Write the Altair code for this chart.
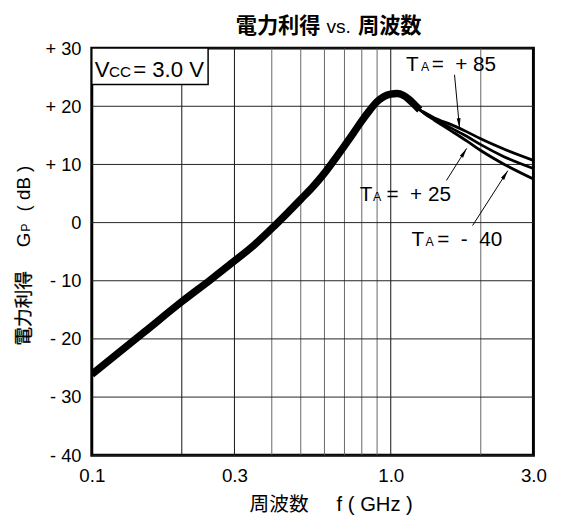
import math
import altair as alt
import pandas as pd

# ---------------- data ----------------
freq_common = [0.1, 0.15, 0.2, 0.25, 0.3, 0.35, 0.4, 0.45, 0.5, 0.55, 0.6, 0.65,
               0.7, 0.75, 0.8, 0.85, 0.9, 0.95, 1.0, 1.05, 1.1, 1.15, 1.2, 1.25]
gain_common = [-26.1, -18.8, -13.6, -9.8, -6.6, -3.8, -1.0, 1.6, 4.0, 6.2, 8.5, 10.9,
               13.2, 15.4, 17.5, 19.3, 20.8, 21.7, 22.1, 22.2, 21.9, 21.2, 20.3, 19.4]

freq_branch = [1.25, 1.3, 1.4, 1.6, 1.8, 2.0, 2.4, 3.0]
gain_p85 = [19.4, 18.9, 18.0, 16.8, 15.6, 14.4, 12.6, 10.7]
gain_p25 = [19.4, 18.8, 17.8, 16.2, 14.8, 13.4, 11.3, 9.3]
gain_m40 = [19.4, 18.7, 17.6, 15.7, 14.0, 12.4, 10.0, 7.5]
series_names = ["+85", "+25", "-40"]

x_ticks = [0.1, 0.3, 1.0, 3.0]
y_ticks = [-40, -30, -20, -10, 0, 10, 20, 30]
x_grid = [0.2, 0.3, 0.4, 0.5, 0.6, 0.7, 0.8, 0.9, 1.0, 2.0]
x_grid_major = [0.2, 0.3, 1.0]

label_text = ["T", "A", "=\u00a0\u00a0+ 85",
              "T", "A", "=\u00a0\u00a0+ 25",
              "T", "A", "=\u00a0\u00a0-\u00a0\u00a040"]
label_f = [1.124, 1.262, 1.37, 0.788, 0.872, 0.968, 1.173, 1.307, 1.43]
label_g = [26.05, 26.05, 26.05, 3.73, 3.73, 3.73, -4.07, -4.07, -4.07]
label_size = [21, 12.5, 21, 21, 12.5, 21, 21, 12.5, 21]

arrow_tail_f = [1.634, 1.535, 1.878]
arrow_tail_g = [25.42, 7.24, -0.51]
arrow_tip_f = [1.698, 1.794, 2.463]
arrow_tip_g = [16.27, 12.76, 8.93]

# ---------------- layout ----------------
W, H = 448, 413
XMIN, XMAX, YMIN, YMAX = 0.1, 3.0, -40, 30
FONT = "Liberation Sans, Arial, sans-serif"
CJK = "Noto Sans CJK JP"


def px(f):
    return W * math.log10(f / XMIN) / math.log10(XMAX / XMIN)


def py(g):
    return H * (YMAX - g) / (YMAX - YMIN)


xs = alt.Scale(type="log", domain=[XMIN, XMAX], nice=False)
ys = alt.Scale(domain=[YMIN, YMAX], nice=False)

thin_rows = []
for name, gains in zip(series_names, [gain_p85, gain_p25, gain_m40]):
    for f, g in zip(freq_common[:-1], gain_common[:-1]):
        thin_rows.append({"s": name, "f": f, "g": g})
    for f, g in zip(freq_branch, gains):
        thin_rows.append({"s": name, "f": f, "g": g})
thin_df = pd.DataFrame(thin_rows)
thick_df = pd.DataFrame({"f": freq_common, "g": gain_common})

grid_df = pd.DataFrame({"f": x_grid,
                        "c": ["#111111" if v in x_grid_major else "#666666" for v in x_grid]})

lab_df = pd.DataFrame({"t": label_text, "f": label_f, "g": label_g, "sz": label_size})

arr_df = pd.DataFrame({"f": arrow_tail_f, "g": arrow_tail_g,
                       "f2": arrow_tip_f, "g2": arrow_tip_g})
arr_df["ang"] = [
    (math.degrees(math.atan2(px(tf) - px(sf), -(py(tg) - py(sg)))) + 360) % 360
    for sf, sg, tf, tg in zip(arrow_tail_f, arrow_tail_g, arrow_tip_f, arrow_tip_g)
]

one = pd.DataFrame({"k": [0]})

y_label_expr = ("datum.value > 0 ? '+ ' + datum.value : "
                "(datum.value < 0 ? '- ' + abs(datum.value) : '0')")

grid = alt.Chart(grid_df).mark_rule(strokeWidth=1).encode(
    x=alt.X("f:Q", scale=xs,
            axis=alt.Axis(values=x_ticks, labelExpr="format(datum.value, '.1f')",
                          title=None, grid=False, ticks=False, domain=False,
                          labelFont=FONT, labelFontSize=19, labelColor="black",
                          labelPadding=12, labelFlush=False)),
    color=alt.Color("c:N", scale=None),
)

hgrid = alt.Chart(pd.DataFrame({"g": y_ticks})).mark_rule(strokeWidth=1, color="#222").encode(
    y=alt.Y("g:Q", scale=ys,
            axis=alt.Axis(values=y_ticks, labelExpr=y_label_expr, title=None,
                          grid=False, ticks=False, domain=False,
                          labelFont=FONT, labelFontSize=18.5, labelColor="black",
                          labelPadding=11)),
)

box = alt.Chart(one).mark_rect(fill="white", stroke="black", strokeWidth=1.5).encode(
    x=alt.value(0), x2=alt.value(118), y=alt.value(0), y2=alt.value(37))


def txt(s, x, y, size, font=FONT, weight="normal", angle=0, align="left", stroke_w=0):
    kw = {}
    if stroke_w:
        kw = {"stroke": "black", "strokeWidth": stroke_w}
    return alt.Chart(one).mark_text(text=s, font=font, fontSize=size, fontWeight=weight,
                                    angle=angle, align=align, baseline="alphabetic",
                                    color="black", fill="black", **kw).encode(
        x=alt.value(x), y=alt.value(y))


vcc_parts = [
    txt("V", 3, 29.5, 22.5),
    txt("CC", 17.5, 29.5, 15.5),
    txt("= 3.0 V", 42, 29.5, 22.5),
]

thick = alt.Chart(thick_df).mark_line(color="black", strokeWidth=7.5, strokeCap="butt",
                                      interpolate="monotone", clip=True).encode(
    x=alt.X("f:Q", scale=xs), y=alt.Y("g:Q", scale=ys))

thin = alt.Chart(thin_df).mark_line(color="black", strokeWidth=2.8, interpolate="monotone",
                                    clip=True).encode(
    x=alt.X("f:Q", scale=xs), y=alt.Y("g:Q", scale=ys), detail="s:N",
    order=alt.Order("f:Q"))

arrows = alt.Chart(arr_df).mark_rule(color="black", strokeWidth=1).encode(
    x=alt.X("f:Q", scale=xs), y=alt.Y("g:Q", scale=ys), x2="f2:Q", y2="g2:Q")

heads = alt.Chart(arr_df).mark_point(shape="M0,0L0.35,1.8L-0.35,1.8Z", filled=True,
                                     color="black", opacity=1, size=121).encode(
    x=alt.X("f2:Q", scale=xs), y=alt.Y("g2:Q", scale=ys),
    angle=alt.Angle("ang:Q", scale=None))

labels = alt.Chart(lab_df).mark_text(font=FONT, align="left", baseline="alphabetic",
                                     color="black").encode(
    x=alt.X("f:Q", scale=xs), y=alt.Y("g:Q", scale=ys), text="t:N",
    size=alt.Size("sz:Q", scale=None))

title_parts = [
    txt("電力利得", 146, -15, 21.5, font=CJK, weight="bold"),
    txt("vs.", 238, -15, 19.5),
    txt("周波数", 270, -15, 21.5, font=CJK, weight="bold"),
]

xtitle_parts = [
    txt("周波数", 190, 470, 20, font=CJK, align="center"),
    txt("f ( GHz )", 287, 470, 20.5, align="center"),
]

ytitle_parts = [
    txt("電力利得", -63, 264, 19, font=CJK, angle=270, align="center", stroke_w=0.3),
    txt("G", -63, 194.5, 19, angle=270, align="center"),
    txt("P", -63, 182, 12.5, angle=270, align="center"),
    txt("( dB )", -63, 142.5, 19, angle=270, align="center"),
]

chart = alt.layer(
    grid, hgrid, box, *vcc_parts, thick, thin, arrows, heads, labels,
    *title_parts, *xtitle_parts, *ytitle_parts
).properties(
    width=W, height=H,
    autosize=alt.AutoSizeParams(type="none"),
    padding={"left": 85, "top": 37, "right": 29, "bottom": 62},
    background="white",
).configure_view(stroke="black", strokeWidth=3)

chart.save("out.html", embed_options={"renderer": "svg", "actions": False})
